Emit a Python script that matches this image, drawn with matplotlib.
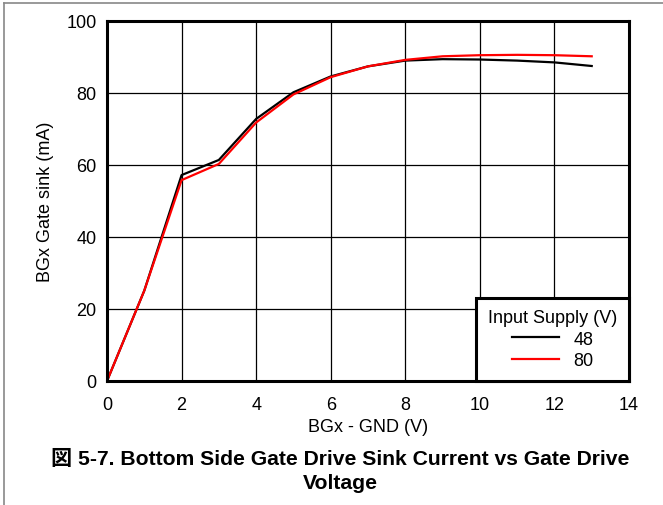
import matplotlib
matplotlib.use("Agg")
import matplotlib.pyplot as plt
from matplotlib.lines import Line2D

plt.rcParams['font.family'] = ['Liberation Sans', 'Noto Sans CJK JP', 'DejaVu Sans']

x_vals = [0, 1, 2, 3, 4, 5, 6, 7, 8, 9, 10, 11, 12, 13]
sink_48 = [0, 25.1, 57.2, 61.4, 72.8, 80.2, 84.6, 87.4, 89.0, 89.4, 89.3, 89.0, 88.5, 87.5]
sink_80 = [0, 25.1, 55.8, 60.3, 71.8, 79.6, 84.4, 87.4, 89.2, 90.2, 90.5, 90.6, 90.5, 90.2]
series_labels = ["48", "80"]
series_colors = ["#000000", "#ff0000"]
x_ticks = [0, 2, 4, 6, 8, 10, 12, 14]
y_ticks = [0, 20, 40, 60, 80, 100]

FS = 13

fig = plt.figure(figsize=(6.63, 5.06), dpi=100)
ax = fig.add_axes([107/663, 124/506, 522/663, 360/506])

ax.plot(x_vals, sink_48, color=series_colors[0], lw=1.6, label=series_labels[0], zorder=3)
ax.plot(x_vals, sink_80, color=series_colors[1], lw=1.6, label=series_labels[1], zorder=3)

ax.set_xlim(0, 14)
ax.set_ylim(0, 100)
ax.set_xticks(x_ticks)
ax.set_yticks(y_ticks)
ax.grid(True, color='black', lw=0.9)
ax.tick_params(axis='x', length=0, labelsize=FS, pad=10.5)
ax.tick_params(axis='y', length=0, labelsize=FS, pad=7.5)
for s in ax.spines.values():
    s.set_linewidth(2.2)
    s.set_zorder(5)

ax.set_xlabel("BGx - GND (V)", fontsize=FS, labelpad=4)
ax.set_ylabel("BGx Gate sink (mA)", fontsize=FS, labelpad=9)

leg = ax.legend(title="Input Supply (V)", loc='lower right', borderaxespad=0,
                fontsize=FS, title_fontsize=FS, fancybox=False, framealpha=1,
                edgecolor='black', handlelength=2.6, handletextpad=0.8,
                labelspacing=0.25, borderpad=0.65)
leg.get_frame().set_linewidth(2.2)
leg.set_zorder(6)

fig.text(340/663, 1 - 459/506, "図 5-7. Bottom Side Gate Drive Sink Current vs Gate Drive",
         ha='center', va='center', fontsize=15.2, fontweight='bold')
fig.text(340/663, 1 - 484/506, "Voltage",
         ha='center', va='center', fontsize=15.2, fontweight='bold')

# partial frame border (top and left)
fig.add_artist(Line2D([4/663, 4/663], [0, 1 - 4/506], transform=fig.transFigure, color='#888888', lw=1.2))
fig.add_artist(Line2D([4/663, 1], [1 - 4/506, 1 - 4/506], transform=fig.transFigure, color='#888888', lw=1.2))

fig.savefig("out.png", dpi=100)
